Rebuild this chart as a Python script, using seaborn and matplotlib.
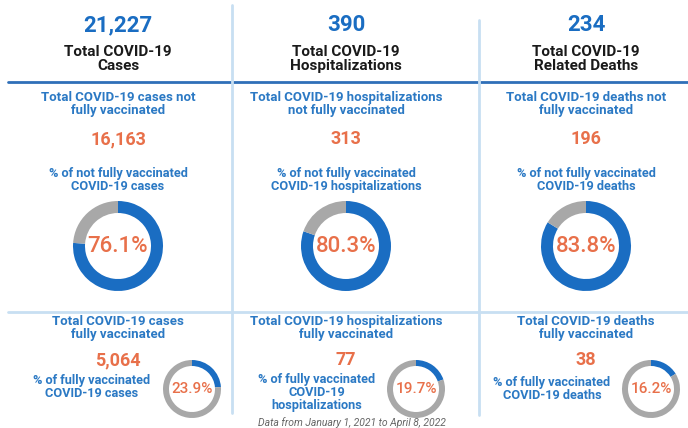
import matplotlib.pyplot as plt
import seaborn as sns

# Data
categories = ['Cases', 'Hospitalizations', 'Deaths']
top_labels = ['Total COVID-19\nCases', 'Total COVID-19\nHospitalizations', 'Total COVID-19\nRelated Deaths']
totals = [21227, 390, 234]

not_vax_titles = ['Total COVID-19 cases not\nfully vaccinated',
                  'Total COVID-19 hospitalizations\nnot fully vaccinated',
                  'Total COVID-19 deaths not\nfully vaccinated']
not_vax_counts = [16163, 313, 196]
not_vax_pct_labels = ['% of not fully vaccinated\nCOVID-19 cases',
                      '% of not fully vaccinated\nCOVID-19 hospitalizations',
                      '% of not fully vaccinated\nCOVID-19 deaths']
not_vax_pct = [76.1, 80.3, 83.8]

vax_titles = ['Total COVID-19 cases\nfully vaccinated',
              'Total COVID-19 hospitalizations\nfully vaccinated',
              'Total COVID-19 deaths\nfully vaccinated']
vax_counts = [5064, 77, 38]
vax_pct_labels = ['% of fully vaccinated\nCOVID-19 cases',
                  '% of fully vaccinated\nCOVID-19\nhospitalizations',
                  '% of fully vaccinated\nCOVID-19 deaths']
vax_pct = [23.9, 19.7, 16.2]

footnote = 'Data from January 1, 2021 to April 8, 2022'

# Style
sns.set_theme(style='white')
plt.rcParams['font.family'] = ['Roboto', 'DejaVu Sans']

BLUE = '#1a6dc2'
TXT_BLUE = '#2b79c4'
ORANGE = '#e8704a'
GRAY = '#a8a8a8'
LIGHT = '#c8dff2'
W, H = 688, 428

fig = plt.figure(figsize=(W / 100, H / 100), dpi=100)
ax = fig.add_axes([0, 0, 1, 1])

col_x = [118, 346, 586]
small_donut_x = [192, 416, 651]
small_text_x = [92, 317, 552]
small_text_y = [387, 393, 389]


def Y(y):
    # pixel row from top -> data y
    return H - y


def donut(x, y, r, ring, pct, fs):
    ax.pie([pct, 100 - pct], colors=[BLUE, GRAY], startangle=90, counterclock=False,
           center=(x, Y(y)), radius=r, wedgeprops=dict(width=ring, linewidth=0))
    ax.text(x, Y(y), f'{pct:.1f}%', ha='center', va='center', color=ORANGE,
            fontsize=fs, fontweight='medium')


# grid lines
ax.plot([8, W], [Y(82), Y(82)], color='#2f6fb8', lw=2)
ax.plot([8, W], [Y(312), Y(312)], color=LIGHT, lw=2)
ax.plot([232, 232], [Y(5), Y(413)], color=LIGHT, lw=2)
ax.plot([479, 479], [Y(20), Y(415)], color=LIGHT, lw=2)

for i in range(3):
    cx = col_x[i]
    # top block
    ax.text(cx, Y(25), f'{totals[i]:,}', ha='center', va='center', color=BLUE,
            fontsize=16, fontweight='bold')
    ax.text(cx, Y(59), top_labels[i], ha='center', va='center', color='#1a1a1a',
            fontsize=11, fontweight='bold', linespacing=1.0)

    # not fully vaccinated block
    ax.text(cx, Y(104), not_vax_titles[i], ha='center', va='center', color=TXT_BLUE,
            fontsize=9.5, fontweight='bold', linespacing=1.0)
    ax.text(cx, Y(139), f'{not_vax_counts[i]:,}', ha='center', va='center', color=ORANGE,
            fontsize=13, fontweight='bold')
    ax.text(cx, Y(180), not_vax_pct_labels[i], ha='center', va='center', color=TXT_BLUE,
            fontsize=9.2, fontweight='bold', linespacing=1.0)
    donut(cx, 246, 45, 12, not_vax_pct[i], 16)

    # fully vaccinated block
    ax.text(cx, Y(328), vax_titles[i], ha='center', va='center', color=TXT_BLUE,
            fontsize=9.5, fontweight='bold', linespacing=1.0)
    ax.text(cx, Y(360), f'{vax_counts[i]:,}', ha='center', va='center', color=ORANGE,
            fontsize=13, fontweight='bold')
    ax.text(small_text_x[i], Y(small_text_y[i]), vax_pct_labels[i], ha='center', va='center',
            color=TXT_BLUE, fontsize=9.2, fontweight='bold', linespacing=1.0)
    donut(small_donut_x[i], 389, 29, 6, vax_pct[i], 11)

ax.text(352, Y(423), footnote, ha='center', va='center', color='#666666',
        fontsize=7.5, fontstyle='italic')

ax.set_xlim(0, W)
ax.set_ylim(0, H)
ax.set_aspect('auto')
ax.axis('off')

fig.savefig('out.png', dpi=100, facecolor='white')
